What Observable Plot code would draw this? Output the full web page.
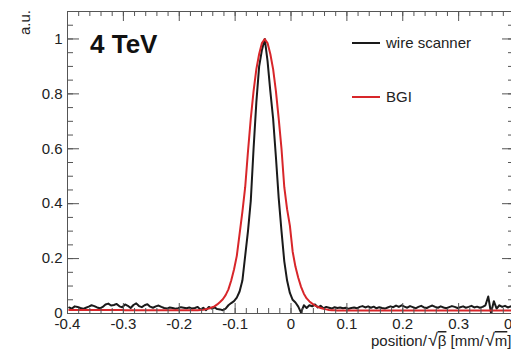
<!DOCTYPE html>
<html>
<head>
<meta charset="utf-8">
<script src="https://cdn.jsdelivr.net/npm/d3@7"></script>
<script src="https://cdn.jsdelivr.net/npm/@observablehq/plot@0.6"></script>
<style>
  html, body { margin: 0; padding: 0; background: white; overflow: hidden; }
  #chart { width: 511px; height: 353px; overflow: hidden; }
</style>
</head>
<body>
<div id="chart"></div>
<script>
// Scan bins (position/sqrt(beta)), first bin and bin width
const binStart = -0.397;
const binWidth = 0.005;

// Wire scanner profile (normalised), one value per bin
const wireScanner = [
  0.022, 0.018, 0.026, 0.024, 0.020, 0.017, 0.021, 0.025, 0.030, 0.027,
  0.022, 0.019, 0.024, 0.033, 0.036, 0.029, 0.031, 0.035, 0.026, 0.023,
  0.033, 0.028, 0.020, 0.031, 0.037, 0.027, 0.023, 0.030, 0.034, 0.025,
  0.021, 0.026, 0.029, 0.024, 0.020, 0.018, 0.022, 0.020, 0.017, 0.019,
  0.023, 0.021, 0.019, 0.022, 0.018, 0.020, 0.024, 0.014, 0.021, 0.012,
  0.024, 0.018, 0.022, 0.016, 0.015, 0.012, 0.018, 0.030, 0.038, 0.045,
  0.058, 0.080, 0.120, 0.210, 0.300, 0.410, 0.600, 0.770, 0.900, 0.960,
  1.000, 0.920, 0.810, 0.710, 0.570, 0.420, 0.300, 0.190, 0.120, 0.075,
  0.050, 0.040, 0.025, 0.003, 0.030, 0.020, 0.030, 0.026, 0.033, 0.022,
  0.028, 0.019, 0.024, 0.021, 0.018, 0.023, 0.020, 0.022, 0.019, 0.021,
  0.017, 0.020, 0.022, 0.019, 0.024, 0.027, 0.022, 0.026, 0.021, 0.025,
  0.019, 0.023, 0.020, 0.018, 0.022, 0.026, 0.023, 0.029, 0.024, 0.030,
  0.025, 0.021, 0.027, 0.023, 0.019, 0.024, 0.028, 0.022, 0.020, 0.025,
  0.029, 0.024, 0.021, 0.026, 0.022, 0.019, 0.023, 0.027, 0.024, 0.020,
  0.023, 0.026, 0.021, 0.024, 0.028, 0.022, 0.025, 0.021, 0.024, 0.030,
  0.062, 0.002, 0.045, 0.018, 0.030, 0.024, 0.028, 0.022, 0.026, 0.021
];

// BGI profile (normalised), one value per bin
const bgi = [
  0.013, 0.013, 0.013, 0.013, 0.013, 0.013, 0.013, 0.013, 0.013, 0.013,
  0.013, 0.013, 0.013, 0.013, 0.013, 0.013, 0.013, 0.013, 0.013, 0.013,
  0.012, 0.012, 0.012, 0.012, 0.012, 0.012, 0.012, 0.012, 0.012, 0.012,
  0.012, 0.012, 0.012, 0.012, 0.012, 0.012, 0.012, 0.012, 0.012, 0.012,
  0.012, 0.012, 0.012, 0.012, 0.012, 0.012, 0.012, 0.013, 0.014, 0.016,
  0.018, 0.022, 0.026, 0.033, 0.042, 0.052, 0.067, 0.088, 0.120, 0.160,
  0.210, 0.290, 0.370, 0.460, 0.590, 0.710, 0.810, 0.890, 0.945, 0.985,
  1.000, 0.985, 0.945, 0.890, 0.810, 0.710, 0.600, 0.460, 0.380, 0.320,
  0.225, 0.170, 0.130, 0.097, 0.072, 0.055, 0.044, 0.036, 0.029, 0.024,
  0.020, 0.017, 0.015, 0.013, 0.012, 0.012, 0.011, 0.011, 0.011, 0.011,
  0.011, 0.011, 0.011, 0.011, 0.011, 0.011, 0.011, 0.011, 0.011, 0.011,
  0.011, 0.011, 0.011, 0.011, 0.011, 0.011, 0.011, 0.011, 0.011, 0.011,
  0.011, 0.011, 0.011, 0.011, 0.011, 0.011, 0.011, 0.011, 0.011, 0.011,
  0.011, 0.011, 0.011, 0.011, 0.011, 0.011, 0.011, 0.011, 0.011, 0.011,
  0.011, 0.011, 0.011, 0.011, 0.011, 0.011, 0.011, 0.011, 0.011, 0.011,
  0.011, 0.011, 0.011, 0.011, 0.011, 0.011, 0.011, 0.011, 0.011, 0.011
];

const seriesNames = ["wire scanner", "BGI"];
const seriesColors = ["#1a1a1a", "#d8262a"];

const xMajorTicks = [-0.4, -0.3, -0.2, -0.1, 0, 0.1, 0.2, 0.3, 0.4];
const xTickLabels = ["-0.4", "-0.3", "-0.2", "-0.1", "0", "0.1", "0.2", "0.3", "0.4"];
const yMajorTicks = [0, 0.2, 0.4, 0.6, 0.8, 1];
const yTickLabels = ["0", "0.2", "0.4", "0.6", "0.8", "1"];
const xMinorTicks = d3.range(-40, 41, 2).map(v => v / 100);
const yMinorTicks = d3.range(0, 22, 1).map(v => v / 20);

const titleText = "4 TeV";
// x title pieces: [text, isRootSign, overlined]
const xTitleParts = [["position/", false, false], ["\u221A", true, false], ["\u03B2", false, true],
                     [" [mm/", false, false], ["\u221A", true, false], ["m", false, true], ["]", false, false]];
const yTitle = "a.u.";

const rows = [];
wireScanner.forEach((v, i) => rows.push({x: binStart + i * binWidth, y: v, s: seriesNames[0]}));
bgi.forEach((v, i) => rows.push({x: binStart + i * binWidth, y: v, s: seriesNames[1]}));

const W = 511, H = 353;
const mL = 67, mR = -3, mT = 11, mB = 40;
const fw = W - mL - mR, fh = H - mT - mB;
const frameColor = "#555";
const font = "'Liberation Sans', Arial, Helvetica, sans-serif";

const chart = Plot.plot({
  width: W,
  height: H,
  marginLeft: mL,
  marginRight: mR,
  marginTop: mT,
  marginBottom: mB,
  style: {fontFamily: font, background: "white", color: "#222", overflow: "hidden"},
  x: {domain: [-0.4, 0.4], label: null},
  y: {domain: [0, 1.1], label: null},
  color: {domain: seriesNames, range: seriesColors},
  marks: [
    Plot.line(rows.filter(d => d.s === seriesNames[0]), {x: "x", y: "y", stroke: "s", strokeWidth: 2, clip: true}),
    Plot.line(rows.filter(d => d.s === seriesNames[1]), {x: "x", y: "y", stroke: "s", strokeWidth: 2, clip: true}),
    Plot.frame({stroke: frameColor, strokeWidth: 1}),
    // bottom & top ticks
    Plot.ruleX(xMajorTicks, {insetTop: fh - 10, stroke: frameColor}),
    Plot.ruleX(xMinorTicks, {insetTop: fh - 5, stroke: frameColor}),
    Plot.ruleX(xMajorTicks, {insetBottom: fh - 10, stroke: frameColor}),
    Plot.ruleX(xMinorTicks, {insetBottom: fh - 5, stroke: frameColor}),
    // left & right ticks
    Plot.ruleY(yMajorTicks, {insetRight: fw - 12, stroke: frameColor}),
    Plot.ruleY(yMinorTicks, {insetRight: fw - 6, stroke: frameColor}),
    Plot.ruleY(yMajorTicks, {insetLeft: fw - 12, stroke: frameColor}),
    Plot.ruleY(yMinorTicks, {insetLeft: fw - 6, stroke: frameColor}),
    Plot.axisX(xMajorTicks, {tickSize: 0, tickPadding: 5, fontSize: 15, tickFormat: d => xTickLabels[xMajorTicks.indexOf(d)], label: null, fill: "#222"}),
    Plot.axisY(yMajorTicks, {tickSize: 0, tickPadding: 5, fontSize: 15, tickFormat: d => yTickLabels[yMajorTicks.indexOf(d)], label: null, fill: "#222"})
  ]
});

document.getElementById("chart").appendChild(chart);

const svg = d3.select(chart);
// Title inside the frame
svg.append("text").attr("x", 90).attr("y", 53).attr("text-anchor", "start")
  .attr("font-family", font).attr("font-size", 26).attr("font-weight", "bold")
  .attr("fill", "#111").text(titleText);
// x axis title (ROOT-like square roots)
const xt = svg.append("text").attr("x", 371).attr("y", 346).attr("text-anchor", "start")
  .attr("font-family", font).attr("font-size", 15).attr("fill", "#222");
xTitleParts.forEach(([t, root, over]) => {
  const s = xt.append("tspan").text(t);
  if (root) s.attr("font-size", 18).attr("dx", 1);
  if (over) s.attr("text-decoration", "overline");
});
svg.append("text").attr("transform", "translate(30,10) rotate(-90)")
  .attr("text-anchor", "end")
  .attr("font-family", font).attr("font-size", 15).attr("fill", "#222").text(yTitle);
// Legend
const legendY = [43, 97];
seriesNames.forEach((name, i) => {
  svg.append("line").attr("x1", 352).attr("x2", 380).attr("y1", legendY[i]).attr("y2", legendY[i])
    .attr("stroke", seriesColors[i]).attr("stroke-width", 2);
  svg.append("text").attr("x", 386).attr("y", legendY[i] + 5).attr("text-anchor", "start")
    .attr("font-family", font).attr("font-size", 15).attr("fill", "#222").text(name);
});
</script>
</body>
</html>
